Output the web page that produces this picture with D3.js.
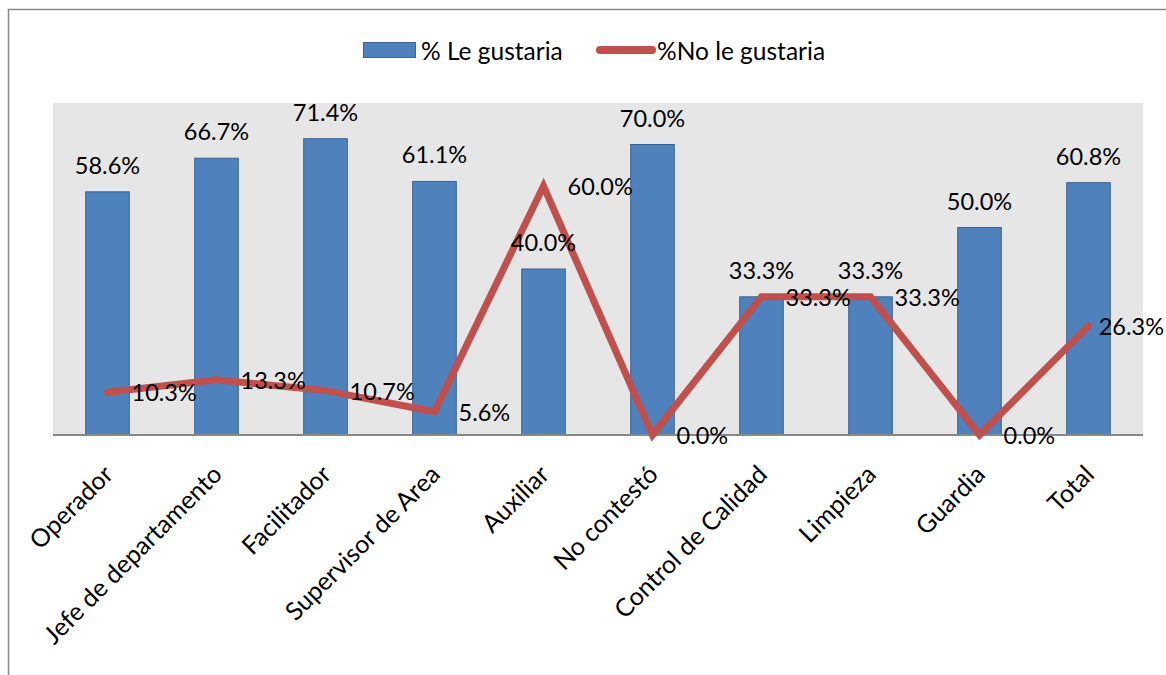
<!DOCTYPE html>
<html>
<head>
<meta charset="utf-8">
<script src="https://cdn.jsdelivr.net/npm/d3@7/dist/d3.min.js"></script>
<style>
  body { margin: 0; background: #fff; }
  svg { display: block; }
  text { font-family: Lato, "Open Sans", sans-serif; fill: #000; }
</style>
</head>
<body>
<svg id="chart" width="1166" height="675"></svg>
<script>
// categories along the x axis
const categories = ["Operador", "Jefe de departamento", "Facilitador", "Supervisor de Area",
  "Auxiliar", "No contestó", "Control de Calidad", "Limpieza", "Guardia", "Total"];

// % Le gustaria (bars)
const leGustaria = [58.6, 66.7, 71.4, 61.1, 40.0, 70.0, 33.3, 33.3, 50.0, 60.8];

// %No le gustaria (line)
const noLeGustaria = [10.3, 13.3, 10.7, 5.6, 60.0, 0.0, 33.3, 33.3, 0.0, 26.3];

const seriesNames = ["% Le gustaria", "%No le gustaria"];

const svg = d3.select("#chart");
const labelSize = 23.5;  // data labels
const axisSize = 25;     // category labels
const legendSize = 24.5;
const maxRight = 1164;   // keep labels inside the picture

// outer chart border (right and bottom edges fall outside the picture)
svg.append("rect")
  .attr("x", 8.5).attr("y", 9.5)
  .attr("width", 1200).attr("height", 700)
  .attr("fill", "none")
  .attr("stroke", "#878787")
  .attr("stroke-width", 1.5);

const plot = { left: 53, right: 1143, top: 103, bottom: 435 };

const x = d3.scaleBand()
  .domain(categories)
  .range([plot.left, plot.right])
  .paddingInner(0.6)
  .paddingOuter(0.3);

const xc = d => x(d) + x.bandwidth() / 2;

const y = d3.scaleLinear()
  .domain([0, 80])
  .range([plot.bottom, plot.top]);

// plot area background
svg.append("rect")
  .attr("x", plot.left).attr("y", plot.top)
  .attr("width", plot.right - plot.left)
  .attr("height", plot.bottom - plot.top)
  .attr("fill", "#e6e6e6");

// bars
svg.append("g").selectAll("rect")
  .data(categories)
  .join("rect")
    .attr("x", d => x(d))
    .attr("y", (d, i) => y(leGustaria[i]))
    .attr("width", x.bandwidth())
    .attr("height", (d, i) => y(0) - y(leGustaria[i]))
    .attr("fill", "#4f81bd")
    .attr("stroke", "#3b6494")
    .attr("stroke-width", 1);

// x axis line, labels rotated like the original
const xAxis = svg.append("g")
  .attr("transform", `translate(0,${plot.bottom})`)
  .call(d3.axisBottom(x).tickSize(0).tickPadding(0));
xAxis.select(".domain")
  .attr("stroke", "#888")
  .attr("stroke-width", 2)
  .attr("d", `M${plot.left},0H${plot.right}`);
xAxis.selectAll(".tick text")
  .attr("font-size", axisSize)
  .attr("font-family", "Lato, sans-serif")
  .attr("fill", "#000")
  .attr("text-anchor", "end")
  .attr("dy", null)
  .attr("y", 0)
  .attr("dominant-baseline", "central")
  .attr("transform", "translate(0,34) rotate(-45)");

// line series
const line = d3.line()
  .x((d, i) => xc(categories[i]))
  .y(d => y(d));

svg.append("path")
  .datum(noLeGustaria)
  .attr("d", line)
  .attr("fill", "none")
  .attr("stroke", "#c0504d")
  .attr("stroke-width", 7)
  .attr("stroke-linejoin", "miter")
  .attr("stroke-linecap", "round");

const fmt = v => v.toFixed(1) + "%";

// bar labels
svg.append("g").selectAll("text")
  .data(categories)
  .join("text")
    .attr("x", d => xc(d))
    .attr("y", (d, i) => y(leGustaria[i]) - 18)
    .attr("text-anchor", "middle")
    .attr("font-size", labelSize)
    .text((d, i) => fmt(leGustaria[i]));

// line labels, to the right of each point (pulled back if past the edge)
svg.append("g").selectAll("text")
  .data(categories)
  .join("text")
    .attr("y", (d, i) => y(noLeGustaria[i]))
    .attr("dominant-baseline", "central")
    .attr("font-size", labelSize)
    .text((d, i) => fmt(noLeGustaria[i]))
    .attr("x", function(d) {
      const w = this.getComputedTextLength();
      return Math.min(xc(d) + 24, maxRight - w);
    });

// legend
const legend = svg.append("g");
legend.append("rect")
  .attr("x", 363.5).attr("y", 42.5)
  .attr("width", 52).attr("height", 15)
  .attr("fill", "#4f81bd")
  .attr("stroke", "#3b6494");
legend.append("text")
  .attr("x", 421).attr("y", 50)
  .attr("dominant-baseline", "central")
  .attr("font-size", legendSize)
  .text(seriesNames[0]);
legend.append("line")
  .attr("x1", 600).attr("x2", 652)
  .attr("y1", 50).attr("y2", 50)
  .attr("stroke", "#c0504d")
  .attr("stroke-width", 8)
  .attr("stroke-linecap", "round");
legend.append("text")
  .attr("x", 657).attr("y", 50)
  .attr("dominant-baseline", "central")
  .attr("font-size", legendSize)
  .text(seriesNames[1]);
</script>
</body>
</html>
